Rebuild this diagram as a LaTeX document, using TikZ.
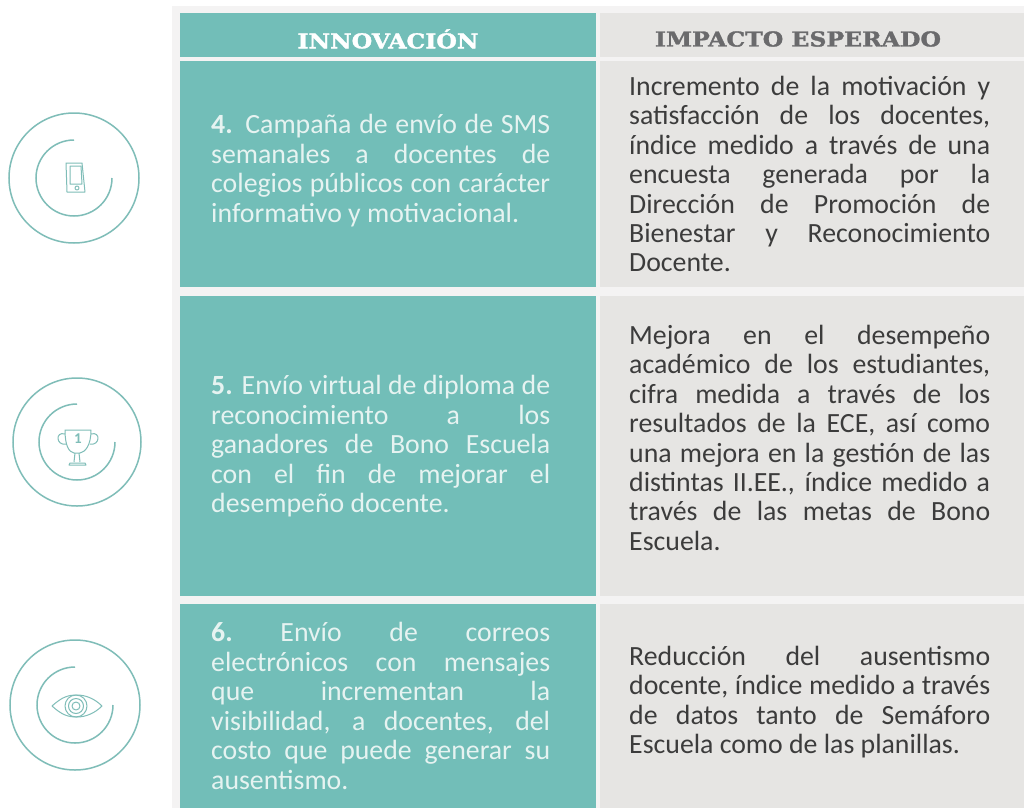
\documentclass[tikz,border=0pt]{standalone}
\usepackage{fontspec}
\setmainfont{Carlito}
\newfontfamily\headfont[BoldFeatures={FakeBold=1.5}]{DejaVu Serif}
\definecolor{teal1}{HTML}{72BEB8}
\definecolor{gray1}{HTML}{E6E5E3}
\definecolor{panel}{HTML}{F4F3F3}
\definecolor{head2}{HTML}{6A6A6C}
\definecolor{body2}{HTML}{3C3C3C}
\definecolor{body1}{HTML}{E6F3F1}
\definecolor{icon}{HTML}{7FBDB8}
\newcommand{\jl}[2]{\hbox to #1pt{#2}}
\newcommand{\nl}[1]{\hbox{#1}}
\newcommand{\hd}[1]{\scalebox{1.15}[1]{\headfont\bfseries\fontsize{20.5}{22}\selectfont #1}}
\tikzset{
  cellT/.style={fill=teal1,draw=none},
  cellG/.style={fill=gray1,draw=none},
  txt/.style={inner sep=0pt,anchor=north west,align=left},
  ring/.style={draw=icon,line width=1.5pt,fill=none},
  glyph/.style={draw=icon,line width=1pt,fill=none,line join=round},
}
\newcommand{\blockL}[1]{\vbox{\fontsize{27.8}{29.5}\selectfont\color{body1}\baselineskip=29.5pt #1}}
\newcommand{\blockR}[1]{\vbox{\fontsize{27.8}{29.4}\selectfont\color{body2}\baselineskip=29.4pt #1}}
\begin{document}
\begin{tikzpicture}[x=1pt,y=-1pt]
\useasboundingbox (0,0) rectangle (1024,808);
\fill[white] (0,0) rectangle (1024,808);
\fill[panel] (172,6) rectangle (1024,808);
% cells
\fill[cellT] (180,13) rectangle (596,57);
\fill[cellG] (600,13) rectangle (1024,57);
\fill[cellT] (180,61) rectangle (596,287);
\fill[cellG] (600,61) rectangle (1024,287);
\fill[cellT] (180,296) rectangle (596,596);
\fill[cellG] (600,296) rectangle (1024,596);
\fill[cellT] (180,604) rectangle (596,808);
\fill[cellG] (600,604) rectangle (1024,808);
% headers
\node[inner sep=0pt,text=white] (h1) at (388,39) {\hd{INNOVACIÓN}};
\node[inner sep=0pt,text=head2] (h2) at (798,39) {\hd{IMPACTO ESPERADO}};
% left texts
\node[txt] (l4) at (211,114) {\blockL{
\jl{339}{\textbf{4.} Campaña de envío de SMS}
\jl{339}{semanales\hfill a\hfill docentes\hfill de}
\jl{339}{colegios públicos con carácter}
\nl{informativo y motivacional.}}};
\node[txt] (l5) at (211,375) {\blockL{
\jl{339}{\textbf{5.} Envío virtual de diploma de}
\jl{339}{reconocimiento\hfill a\hfill los}
\jl{339}{ganadores de Bono Escuela}
\jl{339}{con\hfill el\hfill fin\hfill de\hfill mejorar\hfill el}
\nl{desempeño docente.}}};
\node[txt] (l6) at (211,622) {\blockL{
\jl{339}{\textbf{6.}\hfill Envío\hfill de\hfill correos}
\jl{339}{electrónicos\hfill con\hfill mensajes}
\jl{339}{que\hfill incrementan\hfill la}
\jl{339}{visibilidad, a docentes, del}
\jl{339}{costo que puede generar su}
\nl{ausentismo.}}};
% right texts
\node[txt] (r4) at (629,76) {\blockR{
\jl{361}{Incremento de la motivación y}
\jl{361}{satisfacción\hfill de\hfill los\hfill docentes,}
\jl{361}{índice medido a través de una}
\jl{361}{encuesta\hfill generada\hfill por\hfill la}
\jl{361}{Dirección\hfill de\hfill Promoción\hfill de}
\jl{361}{Bienestar\hfill y\hfill Reconocimiento}
\nl{Docente.}}};
\node[txt] (r5) at (629,325) {\blockR{
\jl{361}{Mejora\hfill en\hfill el\hfill desempeño}
\jl{361}{académico de los estudiantes,}
\jl{361}{cifra medida a través de los}
\jl{361}{resultados de la ECE, así como}
\jl{361}{una mejora en la gestión de las}
\jl{361}{distintas II.EE., índice medido a}
\jl{361}{través de las metas de Bono}
\nl{Escuela.}}};
\node[txt] (r6) at (629,646) {\blockR{
\jl{361}{Reducción\hfill del\hfill ausentismo}
\jl{361}{docente, índice medido a través}
\jl{361}{de datos tanto de Semáforo}
\nl{Escuela como de las planillas.}}};
% icon 1
\draw[ring] (74,178) circle[radius=65];
\draw[ring] (74,140) arc[start angle=-90,end angle=-360,radius=38];
\draw[glyph] (66,163) -- (82,163) -- (85,192) -- (67,192) -- cycle;
\draw[glyph] (70,166) -- (81,166) -- (82,184) -- (70,184) -- cycle;
\draw[glyph] (77,188) circle[radius=2];
% icon 2
\draw[ring] (77,442) circle[radius=64];
\draw[ring] (77,404) arc[start angle=-90,end angle=-360,radius=38];
\draw[glyph] (65,430) -- (91,430) .. controls (91,446) and (85,452) .. (80,453) -- (74,453) .. controls (69,452) and (65,446) .. (65,430) -- cycle;
\draw[glyph] (65,434) .. controls (55,431) and (56,446) .. (66,444);
\draw[glyph] (91,434) .. controls (101,431) and (100,446) .. (90,444);
\draw[glyph] (75,453) -- (74,462) (79,453) -- (80,462);
\draw[glyph] (70,463) -- (85,463) -- (86,465) -- (69,465) -- cycle;
\node[inner sep=0pt,text=icon] (cup) at (78,439) {\fontsize{15}{15}\selectfont\bfseries 1};
% icon 3
\draw[ring] (75,705) circle[radius=65];
\draw[ring] (75,667) arc[start angle=-90,end angle=-360,radius=38];
\draw[glyph] (52,706) .. controls (62,697) and (68,695) .. (77,695) .. controls (86,695) and (95,699) .. (102,706) .. controls (95,713) and (86,717) .. (77,717) .. controls (68,717) and (62,715) .. (52,706) -- cycle;
\draw[glyph] (76,706) circle[radius=11];
\draw[glyph] (76,706) circle[radius=7.5];
\draw[glyph] (76,706) circle[radius=4];
\end{tikzpicture}
\end{document}
